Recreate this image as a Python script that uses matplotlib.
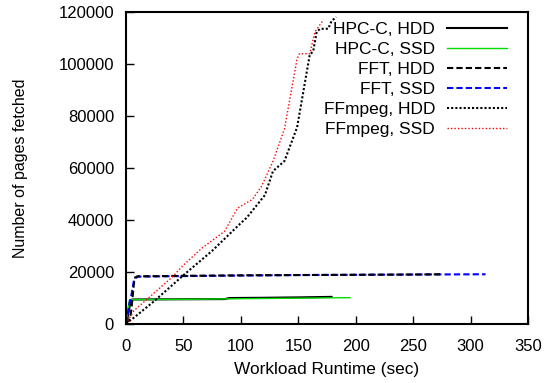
import matplotlib.pyplot as plt

plt.rcParams['font.family'] = ['Liberation Sans', 'DejaVu Sans']
plt.rcParams['font.size'] = 12

# pages fetched over time, one list pair per run
hpc_hdd_t = [0, 1, 2, 3, 4, 5, 6, 30, 60, 86, 90, 120, 150, 179]
hpc_hdd_y = [0, 1500, 3500, 6000, 8500, 9200, 9300, 9350, 9400, 9450, 9850, 9950, 10100, 10300]

hpc_ssd_t = [0, 1, 2, 3, 4, 8, 50, 100, 150, 195]
hpc_ssd_y = [0, 3000, 6500, 8800, 9200, 9250, 9350, 9600, 9800, 10000]

fft_hdd_t = [0, 2, 4, 5, 6, 7, 8, 10, 50, 100, 150, 200, 250, 275]
fft_hdd_y = [0, 1000, 2600, 6400, 11000, 15500, 17800, 18200, 18400, 18600, 18700, 18800, 18900, 19000]

fft_ssd_t = [0, 1, 3, 5, 7, 10, 50, 100, 150, 200, 250, 313]
fft_ssd_y = [0, 2000, 7700, 11500, 16600, 18100, 18300, 18500, 18700, 18800, 18900, 19000]

ffm_hdd_t = [0, 7, 25, 51, 75, 100, 105, 121, 128, 138, 149, 160, 163, 166, 169, 176, 179, 183]
ffm_hdd_y = [0, 2300, 8800, 19000, 28000, 38700, 40700, 49500, 58700, 62600, 75600, 103500, 104800,
             112300, 113500, 113500, 116500, 118000]

ffm_ssd_t = [0, 7, 20, 40, 50, 66, 86, 97, 110, 118, 128, 138, 149, 151, 160, 164.5, 172]
ffm_ssd_y = [0, 5000, 10000, 17800, 22500, 29000, 35600, 44400, 47800, 52800, 62500, 75000, 102000,
             103900, 103900, 112300, 117000]

fig = plt.figure(figsize=(5.45, 3.83), dpi=100)
ax = fig.add_axes([0.231, 0.155, 0.738, 0.814])

ax.plot(hpc_hdd_t, hpc_hdd_y, color='black', lw=1.5, label='HPC-C, HDD')
ax.plot(hpc_ssd_t, hpc_ssd_y, color='#00dd00', lw=1.0, label='HPC-C, SSD')
ax.plot(fft_ssd_t, fft_ssd_y, color='#0000ff', lw=1.5, ls=(0, (3, 1.5)), label='FFT, SSD')
ax.plot(fft_hdd_t, fft_hdd_y, color='black', lw=1.5, ls=(0, (3, 1.5)), label='FFT, HDD')
ax.plot(ffm_hdd_t, ffm_hdd_y, color='black', lw=1.5, ls=(0, (1, 1)), label='FFmpeg, HDD')
ax.plot(ffm_ssd_t, ffm_ssd_y, color='#ff0000', lw=1.0, ls=(0, (1, 1.5)), label='FFmpeg, SSD')

ax.set_xlim(0, 350)
ax.set_ylim(0, 120000)
ax.set_xticks(range(0, 351, 50))
ax.set_yticks(range(0, 120001, 20000))
ax.tick_params(direction='in', length=6, width=1, top=False, right=False)
ax.tick_params(axis='x', pad=11)
ax.tick_params(axis='y', pad=8.5)
for s in ax.spines.values():
    s.set_linewidth(1.5)

ax.set_xlabel('Workload Runtime (sec)', fontsize=12.4, labelpad=6)
ax.set_ylabel('Number of pages fetched', fontsize=11.5, labelpad=22)

handles, labels = ax.get_legend_handles_labels()
order = ['HPC-C, HDD', 'HPC-C, SSD', 'FFT, HDD', 'FFT, SSD', 'FFmpeg, HDD', 'FFmpeg, SSD']
hmap = dict(zip(labels, handles))
ax.legend([hmap[k] for k in order], order, loc='upper right', frameon=False, fontsize=12.5,
          markerfirst=False, handlelength=3.45, labelspacing=0.28, handletextpad=0.7,
          borderaxespad=0, bbox_to_anchor=(0.965, 0.99))

fig.savefig('out.png', dpi=100)
